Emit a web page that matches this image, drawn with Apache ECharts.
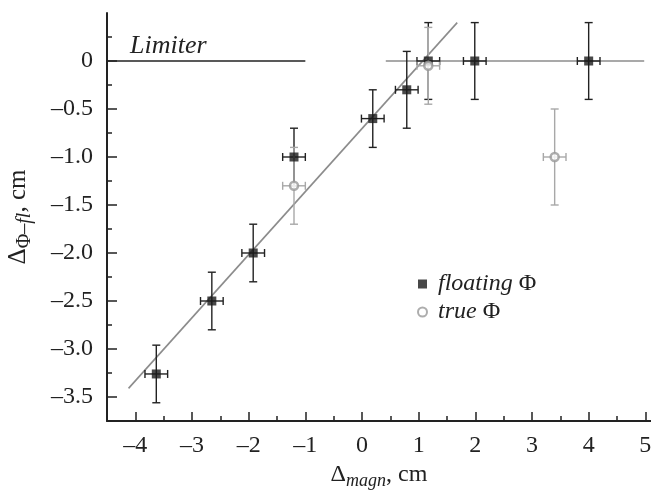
<!DOCTYPE html>
<html><head><meta charset="utf-8">
<script src="https://cdn.jsdelivr.net/npm/echarts@6/dist/echarts.min.js"></script>
<style>html,body{margin:0;padding:0;background:#fff}#c{width:651px;height:493px}</style>
</head><body><div id="c"></div>
<script>
// ---- data ----
const floatX    = [-3.63, -2.65, -1.92, -1.2, 0.19, 0.79, 1.17, 1.99, 4.0];
const floatY    = [-3.26, -2.5, -2.0, -1.0, -0.6, -0.3, 0, 0, 0];
const floatXErr = [0.2, 0.2, 0.2, 0.2, 0.2, 0.2, 0.2, 0.2, 0.2];
const floatYErr = [0.3, 0.3, 0.3, 0.3, 0.3, 0.4, 0.4, 0.4, 0.4];

const trueX    = [-1.2, 1.17, 3.4];
const trueY    = [-1.3, -0.05, -1.0];
const trueXErr = [0.2, 0.2, 0.2];
const trueYErr = [0.4, 0.4, 0.5];

const fitX = [-4.12, 1.68];
const fitY = [-3.41, 0.40];

const limiterX = [-4.5, -1.0];
const limiterY = [0, 0];
const plateauX = [0.42, 4.98];
const plateauY = [0, 0];

const xMajorTicks = [-4, -3, -2, -1, 0, 1, 2, 3, 4, 5];
const xMinorTicks = [-4.5, -3.5, -2.5, -1.5, -0.5, 0.5, 1.5, 2.5, 3.5, 4.5];
const yMajorTicks = [-3.5, -3.0, -2.5, -2.0, -1.5, -1.0, -0.5, 0];
const yMinorTicks = [-3.75, -3.25, -2.75, -2.25, -1.75, -1.25, -0.75, -0.25, 0.25];

const FONT = 'Liberation Serif';
const DARK = '#222';
const GREY = '#8c8c8c';
const LIGHT = '#a8a8a8';

function dash(s){ return String(s).replace('-', '\u2013'); }

function errData(xs, ys, exs, eys){ return xs.map((x,i)=>[x, ys[i], exs[i], eys[i]]); }
function errRender(color){
  return function(params, api){
    const x = api.value(0), y = api.value(1), ex = api.value(2), ey = api.value(3);
    const top = api.coord([x, y + ey]), bot = api.coord([x, y - ey]);
    const l = api.coord([x - ex, y]), r = api.coord([x + ex, y]);
    const c = 4;
    const st = {stroke: color, lineWidth: 1.4};
    const seg = (x1,y1,x2,y2)=>({type:'line', shape:{x1,y1,x2,y2}, style:st});
    return {type:'group', children:[
      seg(top[0], top[1], bot[0], bot[1]),
      seg(top[0]-c, top[1], top[0]+c, top[1]),
      seg(bot[0]-c, bot[1], bot[0]+c, bot[1]),
      seg(l[0], l[1], r[0], r[1]),
      seg(l[0], l[1]-c, l[0], l[1]+c),
      seg(r[0], r[1]-c, r[0], r[1]+c)
    ]};
  };
}

const chart = echarts.init(document.getElementById('c'), null, {renderer:'canvas'});
const axisLineStyle = {color: DARK, width: 2};
chart.setOption({
  animation: false,
  backgroundColor: '#fff',
  grid: {left: 107, right: 0, top: 13, bottom: 72, containLabel: false, outerBoundsMode: 'none'},
  textStyle: {fontFamily: FONT},
  xAxis: [{
    type: 'value', min: -4.5, max: 5.1,
    axisLine: {show: true, onZero: false, lineStyle: axisLineStyle},
    axisTick: {show: true, inside: true, length: 9, lineStyle: {color: DARK, width: 1.5}, customValues: xMajorTicks},
    axisLabel: {customValues: xMajorTicks, formatter: v => dash(v), color: DARK, fontFamily: FONT, fontSize: 24, margin: 13},
    splitLine: {show: false},
    name: '{a|\u0394}{s|magn}{a|, cm}',
    nameLocation: 'middle', nameGap: 35,
    nameTextStyle: {rich: {
      a: {fontFamily: FONT, fontSize: 24, color: DARK},
      s: {fontFamily: FONT, fontSize: 18, fontStyle: 'italic', color: DARK, padding: [12,0,0,0]}
    }}
  },{
    type: 'value', min: -4.5, max: 5.1, position: 'bottom',
    axisLine: {show: false, onZero: false},
    axisTick: {show: true, inside: true, length: 5, lineStyle: {color: DARK, width: 1.5}, customValues: xMinorTicks},
    axisLabel: {show: false}, splitLine: {show: false}
  }],
  yAxis: [{
    type: 'value', min: -3.75, max: 0.5,
    axisLine: {show: true, onZero: false, lineStyle: axisLineStyle},
    axisTick: {show: true, inside: true, length: 10, lineStyle: {color: DARK, width: 1.5}, customValues: yMajorTicks},
    axisLabel: {customValues: yMajorTicks, formatter: v => v === 0 ? '0' : dash(v.toFixed(1)), color: DARK, fontFamily: FONT, fontSize: 24, margin: 14},
    splitLine: {show: false},
    name: '{a|\u0394}{u|\u03A6\u2013}{s|fl}{a|, cm}',
    nameLocation: 'middle', nameGap: 72, nameRotate: 90,
    nameTextStyle: {rich: {
      a: {fontFamily: FONT, fontSize: 25, color: DARK},
      u: {fontFamily: FONT, fontSize: 20, color: DARK, padding: [14,0,0,0]},
      s: {fontFamily: FONT, fontSize: 20, fontStyle: 'italic', color: DARK, padding: [14,0,0,0]}
    }}
  },{
    type: 'value', min: -3.75, max: 0.5, position: 'left',
    axisLine: {show: false, onZero: false},
    axisTick: {show: true, inside: true, length: 5, lineStyle: {color: DARK, width: 1.5}, customValues: yMinorTicks},
    axisLabel: {show: false}, splitLine: {show: false}
  }],
  legend: {
    left: 412, top: 267, orient: 'vertical', itemGap: 4,
    itemWidth: 9, itemHeight: 9,
    data: ['floating \u03A6', 'true \u03A6'],
    formatter: n => n.startsWith('floating') ? '{i|floating }{n|\u03A6}' : '{i|true }{n|\u03A6}',
    textStyle: {rich: {
      i: {fontFamily: FONT, fontSize: 24, fontStyle: 'italic', color: DARK, padding: [0,0,0,6]},
      n: {fontFamily: FONT, fontSize: 24, color: DARK}
    }}
  },
  graphic: [{
    type: 'text', left: 130, top: 33, silent: true,
    style: {text: 'Limiter', font: 'italic 26px "Liberation Serif"', fill: DARK}
  }],
  series: [
    {type: 'line', name: 'limiter', data: limiterX.map((x,i)=>[x, limiterY[i]]), showSymbol: false, symbol: 'none',
     lineStyle: {color: DARK, width: 1.5}, z: 1},
    {type: 'line', name: 'plateau', data: plateauX.map((x,i)=>[x, plateauY[i]]), showSymbol: false, symbol: 'none',
     lineStyle: {color: GREY, width: 1.5}, z: 1},
    {type: 'line', name: 'fit', data: fitX.map((x,i)=>[x, fitY[i]]), showSymbol: false, symbol: 'none',
     lineStyle: {color: GREY, width: 1.6}, z: 1},
    {type: 'custom', name: 'errFloat', renderItem: errRender(DARK), data: errData(floatX, floatY, floatXErr, floatYErr),
     encode: {x: 0, y: 1}, z: 2},
    {type: 'custom', name: 'errTrue', renderItem: errRender(LIGHT), data: errData(trueX, trueY, trueXErr, trueYErr),
     encode: {x: 0, y: 1}, z: 2},
    {type: 'scatter', name: 'floating \u03A6', data: floatX.map((x,i)=>[x, floatY[i]]),
     symbol: 'rect', symbolSize: 9, itemStyle: {color: '#1a1a1a'}, z: 3},
    {type: 'scatter', name: 'true \u03A6', data: trueX.map((x,i)=>[x, trueY[i]]),
     symbol: 'circle', symbolSize: 8, itemStyle: {color: '#fff', borderColor: '#999', borderWidth: 2.5}, z: 4}
  ]
});
</script></body></html>
